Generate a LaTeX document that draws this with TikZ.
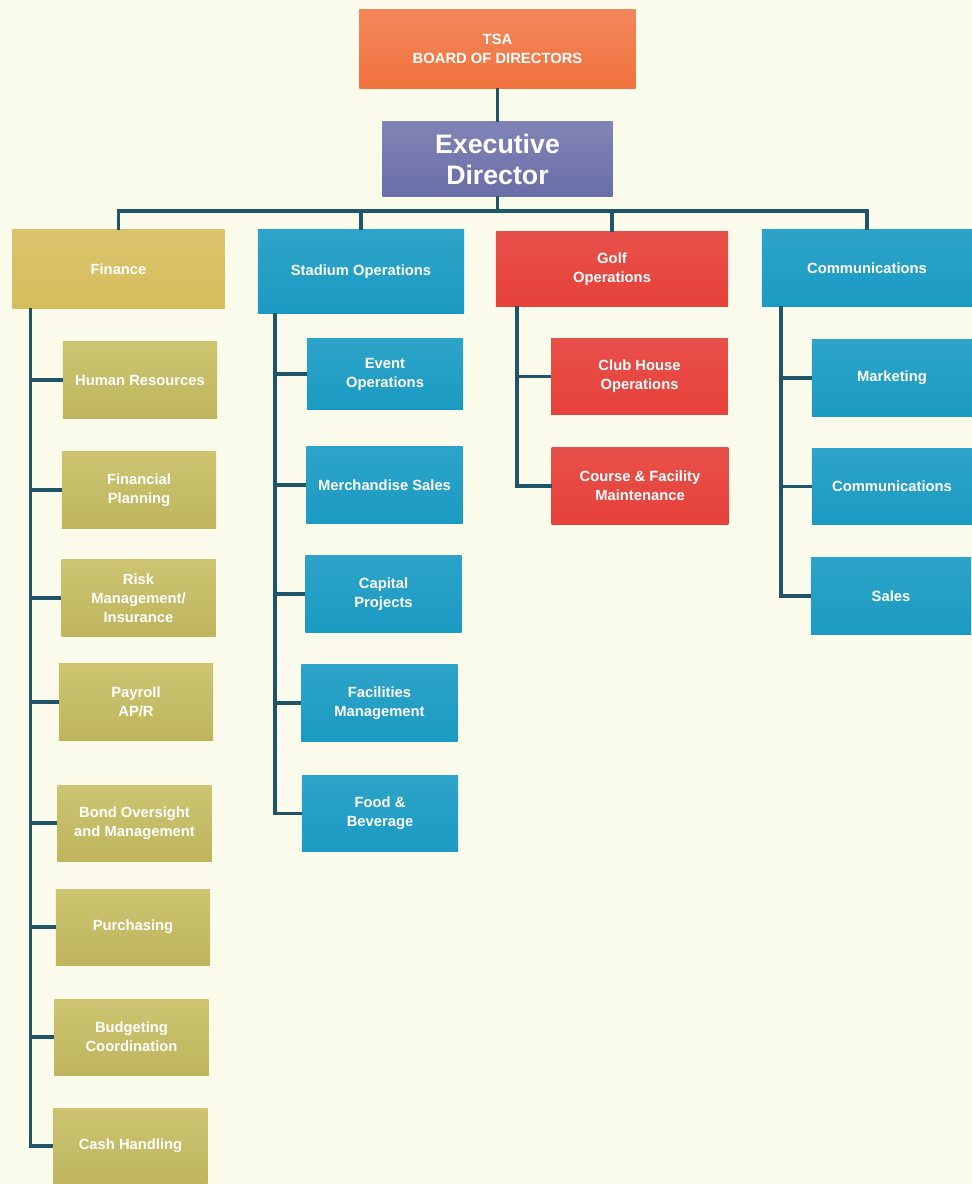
\documentclass[tikz,border=0pt]{standalone}
\usepackage{fontspec}
\setmainfont{Liberation Sans}
\definecolor{paper}{HTML}{FAFBEA}
\definecolor{boardorange}{HTML}{F1723E}
\definecolor{execblue}{HTML}{6A6EA8}
\definecolor{finyellow}{HTML}{D6BD5C}
\definecolor{finolive}{HTML}{C8BE62}
\definecolor{stadteal}{HTML}{1B9BC3}
\definecolor{golfred}{HTML}{E6413A}
\definecolor{linkteal}{HTML}{1F5566}

\begin{document}
\begin{tikzpicture}[x=0.025cm,y=-0.025cm,every node/.style={outer sep=0pt}]
\tikzstyle{box}=[rectangle,inner sep=2pt,align=center,text=white,font=\bfseries\fontsize{10.5}{13.5}\selectfont]
\tikzstyle{board}=[box,top color=boardorange!85!white,bottom color=boardorange,minimum width=6.9cm,minimum height=1.95cm]
\tikzstyle{exec}=[box,top color=execblue!85!white,bottom color=execblue,minimum width=5.75cm,minimum height=1.85cm,font=\bfseries\fontsize{19}{22}\selectfont]
\tikzstyle{finance}=[box,top color=finyellow!90!white,bottom color=finyellow]
\tikzstyle{finsub}=[box,top color=finolive!90!white,bottom color=finolive!95!black,minimum width=3.85cm,minimum height=1.9cm]
\tikzstyle{teal}=[box,top color=stadteal!92!white,bottom color=stadteal]
\tikzstyle{stadsub}=[teal,minimum width=3.9cm,minimum height=1.92cm]
\tikzstyle{golf}=[box,top color=golfred!92!white,bottom color=golfred]
\tikzstyle{golfsub}=[golf,minimum width=4.42cm,minimum height=1.9cm]
\tikzstyle{commsub}=[teal,minimum width=4cm,minimum height=1.92cm]
\tikzstyle{link}=[draw=linkteal,line width=2.2pt]

\useasboundingbox[fill=paper] (0,0) rectangle (972,1184);

% top of the chart
\node (Board) [board] at (497.5,49) {TSA\\BOARD OF DIRECTORS};
\node (ExecDir) [exec] at (497.5,159) {Executive\\Director};
\draw [link] (Board.south) -- (ExecDir.north);

% departments
\node (Finance) [finance,minimum width=5.3cm,minimum height=1.95cm] at (118.5,269) {Finance};
\node (Stadium) [teal,minimum width=5.15cm,minimum height=2.08cm] at (361,271.5) {Stadium Operations};
\node (Golf) [golf,minimum width=5.8cm,minimum height=1.85cm] at (612,269) {Golf\\Operations};
\node (Comms) [teal,minimum width=5.25cm,minimum height=1.9cm] at (867,268) {Communications};

\coordinate (bus) at (497.5,211);
\draw [link] (ExecDir.south) -- (bus);
\draw [link] (bus) -| (Finance.north);
\draw [link] (bus) -| (Stadium.north);
\draw [link] (bus) -| (Golf.north);
\draw [link] (bus) -| (Comms.north);

% finance
\node (HR) [finsub] at (140,380) {Human Resources};
\node (FinPlan) [finsub] at (139,490) {Financial\\Planning};
\node (Risk) [finsub] at (138.5,598) {Risk\\Management/\\Insurance};
\node (Payroll) [finsub] at (136,702) {Payroll\\AP/R};
\node (Bond) [finsub] at (134.5,823) {Bond Oversight\\and Management};
\node (Purch) [finsub] at (133,927) {Purchasing};
\node (Budget) [finsub] at (131.5,1037) {Budgeting\\Coordination};
\node (Cash) [finsub] at (130.5,1146) {Cash Handling};

\draw [link] ([xshift=0.45cm]Finance.south west) |- (HR.west);
\draw [link] ([xshift=0.45cm]Finance.south west) |- (FinPlan.west);
\draw [link] ([xshift=0.45cm]Finance.south west) |- (Risk.west);
\draw [link] ([xshift=0.45cm]Finance.south west) |- (Payroll.west);
\draw [link] ([xshift=0.45cm]Finance.south west) |- (Bond.west);
\draw [link] ([xshift=0.45cm]Finance.south west) |- (Purch.west);
\draw [link] ([xshift=0.45cm]Finance.south west) |- (Budget.west);
\draw [link] ([xshift=0.45cm]Finance.south west) |- (Cash.west);

% stadium
\node (Event) [stadsub,minimum height=1.75cm] at (385,374) {Event\\Operations};
\node (Merch) [stadsub] at (384.5,485) {Merchandise Sales};
\node (Capital) [stadsub] at (383.5,594) {Capital\\Projects};
\node (Facil) [stadsub] at (379.5,703) {Facilities\\Management};
\node (Food) [stadsub] at (380,813.5) {Food \&\\Beverage};

\draw [link] ([xshift=0.425cm]Stadium.south west) |- (Event.west);
\draw [link] ([xshift=0.425cm]Stadium.south west) |- (Merch.west);
\draw [link] ([xshift=0.425cm]Stadium.south west) |- (Capital.west);
\draw [link] ([xshift=0.425cm]Stadium.south west) |- (Facil.west);
\draw [link] ([xshift=0.425cm]Stadium.south west) |- (Food.west);

% golf
\node (Club) [golfsub] at (639.5,376.5) {Club House\\Operations};
\node (Course) [golfsub] at (640,486) {Course \& Facility\\Maintenance};

\draw [link] ([xshift=0.525cm]Golf.south west) |- (Club.west);
\draw [link] ([xshift=0.525cm]Golf.south west) |- (Course.west);

% communications
\node (Market) [commsub] at (892,378) {Marketing};
\node (CommSub) [commsub] at (892,486.5) {Communications};
\node (Sales) [commsub] at (891,596) {Sales};

\draw [link] ([xshift=0.475cm]Comms.south west) |- (Market.west);
\draw [link] ([xshift=0.475cm]Comms.south west) |- (CommSub.west);
\draw [link] ([xshift=0.475cm]Comms.south west) |- (Sales.west);
\end{tikzpicture}
\end{document}
